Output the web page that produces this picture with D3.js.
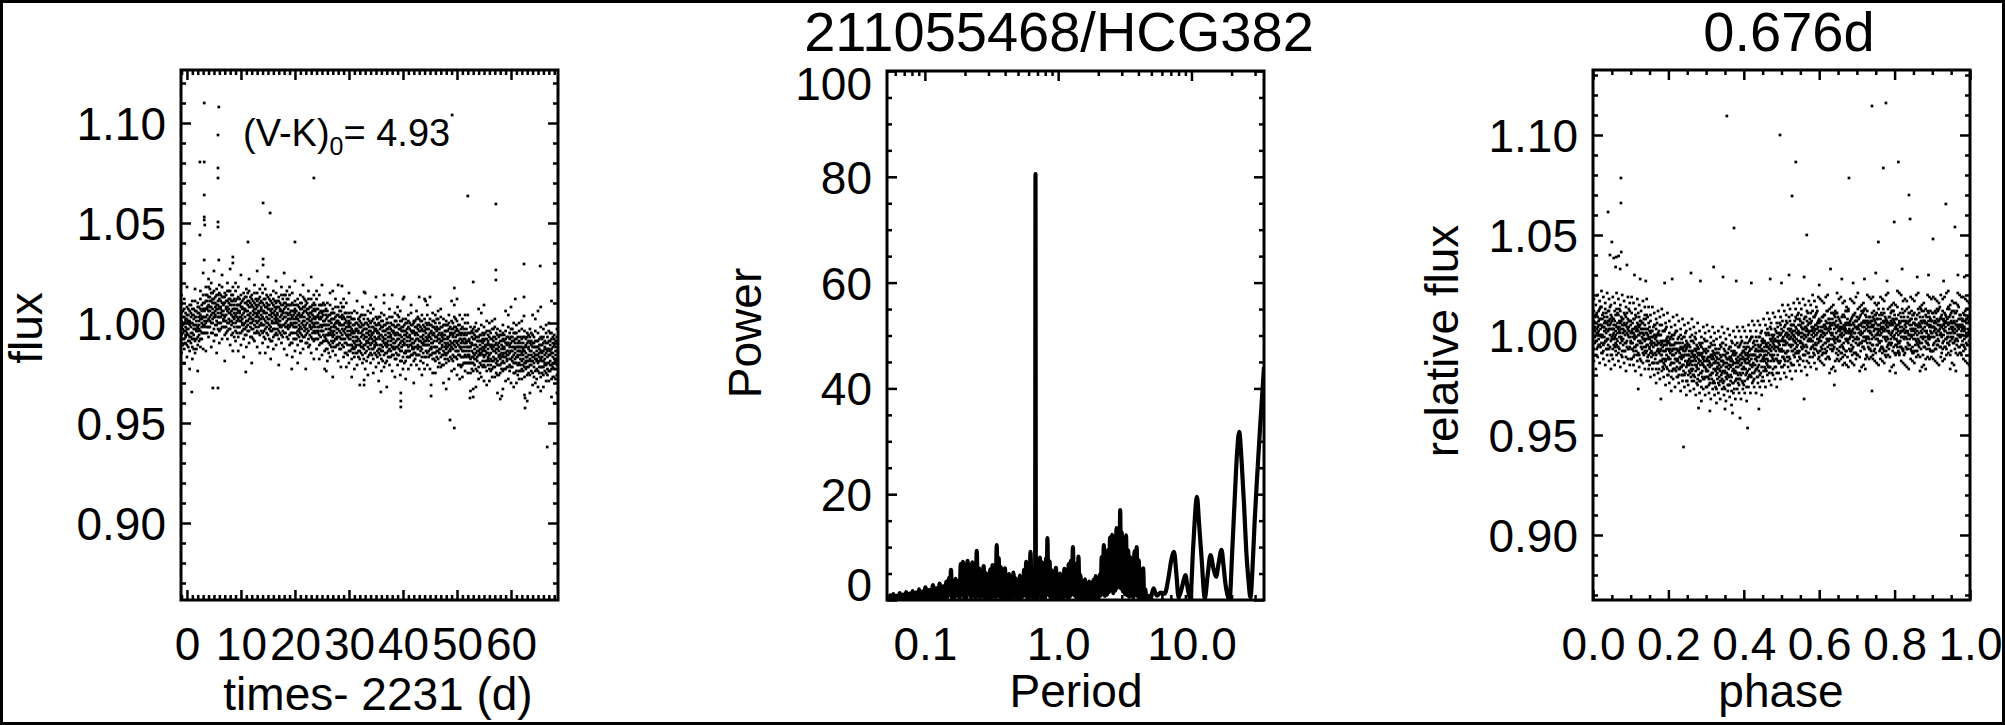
<!DOCTYPE html>
<html><head><meta charset="utf-8">
<script src="https://cdn.jsdelivr.net/npm/d3@7"></script>
<style>
html,body{margin:0;padding:0;background:#fff;}
svg{display:block;}
text{font-family:"Liberation Sans",Arial,Helvetica,sans-serif;fill:#000;}
</style></head><body>
<svg id="c" width="2005" height="725"></svg>
<script>
// ---------------- DATA ----------------
const titleMid = "211055468/HCG382";
const titleRight = "0.676d";
const colourLabel = {pre: "(V-K)", sub: "0", post: "= 4.93"};
const lcXTicks = [0, 10, 20, 30, 40, 50, 60];
const fluxTicks = [0.90, 0.95, 1.00, 1.05, 1.10];
const powerTicks = [0, 20, 40, 60, 80, 100];
const periodTicks = [0.1, 1, 10];
const periodTickLabels = ["0.1", "1.0", "10.0"];
const phaseTicks = [0, 0.2, 0.4, 0.6, 0.8, 1.0];

// light curve: "day : flux offsets in units of 0.001 from 1.000"
const lcRows = [
"-1:-2,5,-10,10,-15,1,-6,14","-0.5:0,-8,7,-13,3,-4,12,-20","0:-3,2,-11,8,-17,4,-5,18","0.5:-1,-7,6,-14,9,-9,1,-23",
"1:-5,4,-12,11,-8,0,7,-18","1.5:3,-3,6,-15,11,-9,-1,17","2:-2,5,-7,10,-11,8,-4,-24","2.5:4,-8,7,-4,16,-12,2,12",
"3:3,-1,14,-5,7,-13,10,25","3.5:0,7,14,-5,18,3,11,-14","4:6,13,-2,18,-7,9,2,22","4.5:8,0,15,-5,11,4,20,-12",
"5:5,10,-3,16,-9,12,3,26","5.5:7,1,14,-6,17,-1,9,-15","6:3,12,-4,19,0,8,15,-10","6.5:10,4,13,-8,18,-2,6,24",
"7:3,10,-2,15,-6,13,1,-19","7.5:8,-4,11,0,20,-8,6,16","8:5,1,16,-3,9,-11,12,27","8.5:0,7,14,-5,18,3,11,-14",
"9:4,11,-4,16,-9,7,0,20","9.5:6,-2,13,-7,9,2,18,-14","10:3,8,-5,14,-11,10,1,24","10.5:5,-1,12,-8,15,-3,7,-17",
"11:1,10,-6,17,-2,6,13,-12","11.5:8,2,11,-10,16,-4,4,22","12:2,9,-3,14,-7,12,0,-20","12.5:7,-5,10,-1,19,-9,5,15",
"13:4,0,15,-4,8,-12,11,26","13.5:-1,6,13,-6,17,2,10,-15","14:3,10,-5,15,-10,6,-1,19","14.5:5,-3,12,-8,8,1,17,-15",
"15:2,7,-6,13,-12,9,0,23","15.5:4,-2,11,-9,14,-4,6,-18","16:0,9,-7,16,-3,5,12,-13","16.5:7,1,10,-11,15,-5,3,21",
"17:1,8,-4,13,-8,11,-1,-21","17.5:6,-6,9,-2,18,-10,4,14","18:3,-1,14,-5,7,-13,10,25","18.5:-2,5,12,-7,16,1,9,-16",
"19:2,9,-6,14,-11,5,-2,18","19.5:3,-5,10,-10,6,-1,15,-17","20:0,5,-8,11,-14,7,-2,21","20.5:2,-4,9,-11,12,-6,4,-20",
"21:-2,7,-9,14,-5,3,10,-15","21.5:5,-1,8,-13,13,-7,1,19","22:-1,6,-6,11,-10,9,-3,-23","22.5:4,-8,7,-4,16,-12,2,12",
"23:1,-3,12,-7,5,-15,8,23","23.5:-4,3,10,-9,14,-1,7,-18","24:0,7,-8,12,-13,3,-4,16","24.5:2,-6,9,-11,5,-2,14,-18",
"25:-2,3,-10,9,-16,5,-4,19","25.5:-1,-7,6,-14,9,-9,1,-23","26:-6,3,-13,10,-9,-1,6,-19","26.5:1,-5,4,-17,9,-11,-3,15",
"27:-5,2,-10,7,-14,5,-7,-27","27.5:0,-12,3,-8,12,-16,-2,8","28:-3,-7,8,-11,1,-19,4,19","28.5:-8,-1,6,-13,10,-5,3,-22",
"29:-4,3,-12,8,-17,-1,-8,12","29.5:-2,-10,5,-15,1,-6,10,-22","30:-6,-1,-14,5,-20,1,-8,15","30.5:-5,-11,2,-18,5,-13,-3,-27",
"31:-10,-1,-17,6,-13,-5,2,-23","31.5:-3,-9,0,-21,5,-15,-7,11","32:-9,-2,-14,3,-18,1,-11,-31","32.5:-4,-16,-1,-12,8,-20,-6,4",
"33:-7,-11,4,-15,-3,-23,0,15","33.5:-12,-5,2,-17,6,-9,-1,-26","34:-7,0,-15,5,-20,-4,-11,9","34.5:-5,-13,2,-18,-2,-9,7,-25",
"35:-8,-3,-16,3,-22,-1,-10,13","35.5:-7,-13,0,-20,3,-15,-5,-29","36:-11,-2,-18,5,-14,-6,1,-24","36.5:-4,-10,-1,-22,4,-16,-8,10",
"37:-10,-3,-15,2,-19,0,-12,-32","37.5:-5,-17,-2,-13,7,-21,-7,3","38:-8,-12,3,-16,-4,-24,-1,14","38.5:-13,-6,1,-18,5,-10,-2,-27",
"39:-8,-1,-16,4,-21,-5,-12,8","39.5:-6,-14,1,-19,-3,-10,6,-26","40:-9,-4,-17,2,-23,-2,-11,12","40.5:-6,-14,0,-19,2,-15,-4,-28",
"41:-12,-2,-17,4,-14,-7,1,-23","41.5:-4,-11,-1,-21,5,-16,-8,9","42:-10,-4,-15,1,-19,0,-13,-30","42.5:-5,-16,-2,-12,6,-21,-8,2",
"43:-9,-12,2,-16,-4,-23,-1,13","43.5:-13,-7,1,-17,4,-10,-3,-26","44:-9,-4,-17,2,-23,-2,-11,12","44.5:-3,-11,-1,-21,4,-15,-8,9",
"45:-7,-13,2,-16,-5,-23,-1,13","45.5:-6,-15,1,-18,-2,-10,5,-25","46:-12,-3,-19,4,-15,-7,0,-25","46.5:-6,-18,-3,-14,6,-22,-8,2",
"47:-9,-2,-17,3,-22,-6,-13,7","47.5:-8,-14,-1,-21,2,-16,-6,-30","48:-11,-4,-16,1,-20,-1,-13,-33","48.5:-14,-7,0,-19,4,-11,-3,-28",
"49:-10,-5,-18,1,-24,-3,-12,11","49.5:-5,-11,-2,-23,3,-17,-9,9","50:-10,-14,1,-18,-6,-26,-3,12","50.5:-8,-16,-1,-21,-5,-12,4,-28",
"51:-14,-5,-21,2,-17,-9,-2,-27","51.5:-8,-20,-5,-16,4,-24,-10,0","52:-12,-5,-20,0,-25,-9,-16,4","52.5:-12,-18,-5,-25,-2,-20,-10,-34",
"53:-15,-8,-20,-3,-24,-5,-17,-37","53.5:-18,-11,-4,-23,0,-15,-7,-32","54:-14,-9,-22,-3,-28,-7,-16,7","54.5:-9,-15,-6,-27,-1,-21,-13,5",
"55:-13,-17,-2,-21,-9,-29,-6,9","55.5:-11,-19,-4,-24,-8,-15,1,-31","56:-16,-7,-23,0,-19,-11,-4,-29","56.5:-11,-23,-8,-19,1,-27,-13,-3",
"57:-14,-7,-22,-2,-27,-11,-18,2","57.5:-13,-19,-6,-26,-3,-21,-11,-35","58:-16,-9,-21,-4,-25,-6,-18,-38","58.5:-19,-12,-5,-24,-1,-16,-8,-33",
"59:-15,-10,-23,-4,-29,-8,-17,6","59.5:-10,-16,-7,-28,-2,-22,-14,4","60:-14,-18,-3,-22,-10,-30,-7,8","60.5:-12,-20,-5,-25,-9,-16,0,-32",
"61:-17,-8,-24,-1,-20,-12,-5,-30","61.5:-12,-24,-9,-20,0,-28,-14,-4","62:-15,-8,-23,-3,-28,-12,-19,1","62.5:-14,-20,-7,-27,-4,-22,-12,-36",
"63:-17,-10,-22,-5,-26,-7,-19,-39","63.5:-21,-14,-7,-26,-3,-18,-10,-35","64:-17,-12,-25,-6,-31,-10,-19,4","64.5:-12,-18,-9,-30,-4,-24,-16,2",
"65:-16,-20,-5,-24,-12,-32,-9,6","65.5:-14,-22,-7,-27,-11,-18,-2,-34","66:-19,-10,-26,-3,-22,-14,-7,-32","66.5:-13,-25,-10,-21,-1,-29,-15,-5",
"67:-16,-9,-24,-4,-29,-13,-20,0","67.5:-15,-21,-8,-28,-5,-23,-13,-37","68:-18,-11,-23,-6,-27,-8,-20,-40","68.5:-21,-14,-7,-26,-3,-18,-10,-35"
];
const lcRows2 = [
"-0.75:-1,-5,3,-8,6,-11,0,-3","-0.25:-4,2,-7,5,-10,-2,1,-6","0.25:1,-3,4,-9,0,-6,7,-12","0.75:-2,0,-5,3,-7,5,-10,9",
"1.25:-3,-1,-6,2,-8,4,-13,7","1.75:1,-3,6,-4,-1,-8,3,-13","2.25:-3,5,-1,3,-9,8,1,-6","2.75:2,-2,6,-5,9,-8,3,0",
"3.25:1,7,-2,10,-5,3,6,-1","3.75:8,4,11,-2,7,1,14,-5","4.25:6,8,3,11,1,13,-2,17","4.75:5,7,2,10,0,12,-5,15",
"5.25:8,4,13,3,6,-1,10,-6","5.75:3,11,5,9,-3,14,7,0","6.25:7,3,11,0,14,-3,8,5","6.75:4,10,1,13,-2,6,9,2",
"7.25:8,4,11,-2,7,1,14,-5","7.75:5,7,2,10,0,12,-3,16","8.25:4,6,1,9,-1,11,-6,14","8.75:7,3,12,2,5,-2,9,-7",
"9.25:1,9,3,7,-5,12,5,-2","9.75:5,1,9,-2,12,-5,6,3","10.25:2,8,-1,11,-4,4,7,0","10.75:7,3,10,-3,6,0,13,-6",
"11.25:4,6,1,9,-1,11,-4,15","11.75:3,5,0,8,-2,10,-7,13","12.25:6,2,11,1,4,-3,8,-8","12.75:1,9,3,7,-5,12,5,-2",
"13.25:5,1,9,-2,12,-5,6,3","13.75:2,8,-1,11,-4,4,7,0","14.25:6,2,9,-4,5,-1,12,-7","14.75:3,5,0,8,-2,10,-5,14",
"15.25:2,4,-1,7,-3,9,-8,12","15.75:5,1,10,0,3,-4,7,-9","16.25:0,8,2,6,-6,11,4,-3","16.75:4,0,8,-3,11,-6,5,2",
"17.25:1,7,-2,10,-5,3,6,-1","17.75:6,2,9,-4,5,-1,12,-7","18.25:3,5,0,8,-2,10,-5,14","18.75:2,4,-1,7,-3,9,-8,12",
"19.25:4,0,9,-1,2,-5,6,-10","19.75:-2,6,0,4,-8,9,2,-5","20.25:2,-2,6,-5,9,-8,3,0","20.75:-1,5,-4,8,-7,1,4,-3",
"21.25:4,0,7,-6,3,-3,10,-9","21.75:1,3,-2,6,-4,8,-7,12","22.25:0,2,-3,5,-5,7,-10,10","22.75:3,-1,8,-2,1,-6,5,-11",
"23.25:-2,6,0,4,-8,9,2,-5","23.75:2,-2,6,-5,9,-8,3,0","24.25:-2,4,-5,7,-8,0,3,-4","24.75:3,-1,6,-7,2,-4,9,-10",
"25.25:-1,1,-4,4,-6,6,-9,10","25.75:-3,-1,-6,2,-8,4,-13,7","26.25:-1,-5,4,-6,-3,-10,1,-15","26.75:-6,2,-4,0,-12,5,-2,-9",
"27.25:-2,-6,2,-9,5,-12,-1,-4","27.75:-5,1,-8,4,-11,-3,0,-7","28.25:0,-4,3,-10,-1,-7,6,-13","28.75:-3,-1,-6,2,-8,4,-11,8",
"29.25:-5,-3,-8,0,-10,2,-15,5","29.75:-2,-6,3,-7,-4,-11,0,-16","30.25:-8,0,-6,-2,-14,3,-4,-11","30.75:-5,-9,-1,-12,2,-15,-4,-7",
"31.25:-9,-3,-12,0,-15,-7,-4,-11","31.75:-4,-8,-1,-14,-5,-11,2,-17","32.25:-7,-5,-10,-2,-12,0,-15,4","32.75:-8,-6,-11,-3,-13,-1,-18,2",
"33.25:-5,-9,0,-10,-7,-14,-3,-19","33.75:-10,-2,-8,-4,-16,1,-6,-13","34.25:-6,-10,-2,-13,1,-16,-5,-8","34.75:-9,-3,-12,0,-15,-7,-4,-11",
"35.25:-4,-8,-1,-14,-5,-11,2,-17","35.75:-8,-6,-11,-3,-13,-1,-16,3","36.25:-9,-7,-12,-4,-14,-2,-19,1","36.75:-6,-10,-1,-11,-8,-15,-4,-20",
"37.25:-11,-3,-9,-5,-17,0,-7,-14","37.75:-7,-11,-3,-14,0,-17,-6,-9","38.25:-10,-4,-13,-1,-16,-8,-5,-12","38.75:-5,-9,-2,-15,-6,-12,1,-18",
"39.25:-8,-6,-11,-3,-13,-1,-16,3","39.75:-9,-7,-12,-4,-14,-2,-19,1","40.25:-6,-10,-1,-11,-8,-15,-4,-20","40.75:-11,-3,-9,-5,-17,0,-7,-14",
"41.25:-7,-11,-3,-14,0,-17,-6,-9","41.75:-10,-4,-13,-1,-16,-8,-5,-12","42.25:-5,-9,-2,-15,-6,-12,1,-18","42.75:-8,-6,-11,-3,-13,-1,-16,3",
"43.25:-9,-7,-12,-4,-14,-2,-19,1","43.75:-6,-10,-1,-11,-8,-15,-4,-20","44.25:-11,-3,-9,-5,-17,0,-7,-14","44.75:-7,-11,-3,-14,0,-17,-6,-9",
"45.25:-10,-4,-13,-1,-16,-8,-5,-12","45.75:-5,-9,-2,-15,-6,-12,1,-18","46.25:-9,-7,-12,-4,-14,-2,-17,2","46.75:-10,-8,-13,-5,-15,-3,-20,0",
"47.25:-7,-11,-2,-12,-9,-16,-5,-21","47.75:-12,-4,-10,-6,-18,-1,-8,-15","48.25:-8,-12,-4,-15,-1,-18,-7,-10","48.75:-11,-5,-14,-2,-17,-9,-6,-13",
"49.25:-6,-10,-3,-16,-7,-13,0,-19","49.75:-9,-7,-12,-4,-14,-2,-17,2","50.25:-11,-9,-14,-6,-16,-4,-21,-1","50.75:-8,-12,-3,-13,-10,-17,-6,-22",
"51.25:-14,-6,-12,-8,-20,-3,-10,-17","51.75:-10,-14,-6,-17,-3,-20,-9,-12","52.25:-14,-8,-17,-5,-20,-12,-9,-16","52.75:-10,-14,-7,-20,-11,-17,-4,-23",
"53.25:-13,-11,-16,-8,-18,-6,-21,-2","53.75:-14,-12,-17,-9,-19,-7,-24,-4","54.25:-11,-15,-6,-16,-13,-20,-9,-25","54.75:-16,-8,-14,-10,-22,-5,-12,-19",
"55.25:-12,-16,-8,-19,-5,-22,-11,-14","55.75:-15,-9,-18,-6,-21,-13,-10,-17","56.25:-11,-15,-8,-21,-12,-18,-5,-24","56.75:-14,-12,-17,-9,-19,-7,-22,-3",
"57.25:-15,-13,-18,-10,-20,-8,-25,-5","57.75:-12,-16,-7,-17,-14,-21,-10,-26","58.25:-17,-9,-15,-11,-23,-6,-13,-20","58.75:-13,-17,-9,-20,-6,-23,-12,-15",
"59.25:-16,-10,-19,-7,-22,-14,-11,-18","59.75:-11,-15,-8,-21,-12,-18,-5,-24","60.25:-14,-12,-17,-9,-19,-7,-22,-3","60.75:-15,-13,-18,-10,-20,-8,-25,-5",
"61.25:-12,-16,-7,-17,-14,-21,-10,-26","61.75:-18,-10,-16,-12,-24,-7,-14,-21","62.25:-14,-18,-10,-21,-7,-24,-13,-16","62.75:-17,-11,-20,-8,-23,-15,-12,-19",
"63.25:-12,-16,-9,-22,-13,-19,-6,-25","63.75:-16,-14,-19,-11,-21,-9,-24,-5","64.25:-17,-15,-20,-12,-22,-10,-27,-7","64.75:-14,-18,-9,-19,-16,-23,-12,-28",
"65.25:-19,-11,-17,-13,-25,-8,-15,-22","65.75:-15,-19,-11,-22,-8,-25,-14,-17","66.25:-18,-12,-21,-9,-24,-16,-13,-20","66.75:-13,-17,-10,-23,-14,-20,-7,-26",
"67.25:-16,-14,-19,-11,-21,-9,-24,-5","67.75:-17,-15,-20,-12,-22,-10,-27,-7","68.25:-14,-18,-9,-19,-16,-23,-12,-28"
];
// light curve isolated points: [day, flux]
const lcOutliers = [
[3.2,1.110],[5.9,1.108],[2.4,1.0805],[3.2,1.0805],[5.75,1.0775],[5.75,1.0725],[5.75,1.094],[3.2,1.064],[3.2,1.053],[3.2,1.0515],
[3.3,1.049],[2.4,1.044],[5.75,1.0505],[5.75,1.048],[23.5,1.0725],[14.1,1.060],[15.4,1.055],[11.3,1.0405],[20,1.0405],[49.1,1.104],
[52,1.0635],[57.2,1.0595],[62.4,1.0295],[65.4,1.0285],[57.2,1.0265],[57.2,1.0215],[3.2,1.0315],[5.9,1.0315],[8.5,1.033],[8.5,1.030],
[14.1,1.032],[14.1,1.029],[0.9,0.9655],[5.75,0.9675],[48.7,0.9515],[49.5,0.9475],[66.7,0.938],[39.6,0.965],[39.6,0.961],[39.6,0.958],
[62.6,0.9625],[62.6,0.9575],[58.3,0.9635],[32.8,0.9715],[32.8,0.969],[25.8,0.976],[10.9,0.9755],[19.4,0.977],[35.9,0.9655],[45.2,0.969],
[45.2,0.9635],[52.4,0.9625],[53,0.967],[4.8,0.9675],[62.4,1.013],[62.4,1.0035],[53,1.0205],[49.5,1.0175],[44.2,1.011],[32.8,1.0155],
[27,1.016],[28.7,1.0185],[36.5,1.014],[40.2,1.013],[60.8,1.012],[65.5,1.008],[67.5,1.011]
];

// phased light curve: "phase : relative flux offsets in units of 0.001 from 1.000"
const phaseRows = [
"0.0025:3,12,-7,18,-13,7","0.0075:6,-3,15,-10,10,-17","0.0125:1,9,-6,20,-11,4","0.0175:8,0,13,-14,17,-5","0.0225:-1,5,-9,14,-4,22",
"0.0275:4,-5,11,-8,19,-12","0.0325:2,7,16,-3,-15,13","0.0375:9,-7,6,21,-2,-10","0.0425:3,12,-7,18,-13,7","0.0475:6,-3,15,-10,10,-17",
"0.0525:0,8,-7,19,-12,3","0.0575:7,-1,12,-15,16,-6","0.0625:-2,4,-10,13,-5,21","0.0675:3,-6,10,-9,18,-13","0.0725:1,6,15,-4,-16,12",
"0.0775:8,-8,5,20,-3,-11","0.0825:2,11,-8,17,-14,6","0.0875:5,-4,14,-11,9,-18","0.0925:0,8,-7,19,-12,3","0.0975:7,-1,12,-15,16,-6",
"0.1025:-4,2,-12,11,-7,19","0.1075:1,-8,8,-11,16,-15","0.1125:-1,4,13,-6,-18,10","0.1175:6,-10,3,18,-5,-13","0.1225:0,9,-10,15,-16,4",
"0.1275:3,-6,12,-13,7,-20","0.1325:-2,6,-9,17,-14,1","0.1375:5,-3,10,-17,14,-8","0.1425:-5,1,-13,10,-8,18","0.1475:-1,-10,6,-13,14,-17",
"0.1525:-4,1,10,-9,-21,7","0.1575:2,-14,-1,14,-9,-17","0.1625:-4,5,-14,11,-20,0","0.1675:-1,-10,8,-17,3,-24","0.1725:-7,1,-14,12,-19,-4",
"0.1775:0,-8,5,-22,9,-13","0.1825:-10,-4,-18,5,-13,13","0.1875:-5,-14,2,-17,10,-21","0.1925:-8,-3,6,-13,-25,3","0.1975:-1,-17,-4,11,-12,-20",
"0.2025:-8,1,-18,7,-24,-4","0.2075:-5,-14,4,-21,-1,-28","0.2125:-10,-2,-17,9,-22,-7","0.2175:-4,-12,1,-26,5,-17","0.2225:-13,-7,-21,2,-16,10",
"0.2275:-8,-17,-1,-20,7,-24","0.2325:-11,-6,3,-16,-28,0","0.2375:-4,-20,-7,8,-15,-23","0.2425:-10,-1,-20,5,-26,-6","0.2475:-7,-16,2,-23,-3,-30",
"0.2525:-13,-5,-20,6,-25,-10","0.2575:-6,-14,-1,-28,3,-19","0.2625:-15,-9,-23,0,-18,8","0.2675:-11,-20,-4,-23,4,-27","0.2725:-13,-8,1,-18,-30,-2",
"0.2775:-6,-22,-9,6,-17,-25","0.2825:-13,-4,-23,2,-29,-9","0.2875:-10,-19,-1,-26,-6,-33","0.2925:-15,-7,-22,4,-27,-12","0.2975:-8,-16,-3,-30,1,-21",
"0.3025:-18,-12,-26,-3,-21,5","0.3075:-13,-22,-6,-25,2,-29","0.3125:-15,-10,-1,-20,-32,-4","0.3175:-8,-24,-11,4,-19,-27","0.3225:-14,-5,-24,1,-30,-10",
"0.3275:-11,-20,-2,-27,-7,-34","0.3325:-17,-9,-24,2,-29,-14","0.3375:-10,-18,-5,-32,-1,-23","0.3425:-19,-13,-27,-4,-22,4","0.3475:-14,-23,-7,-26,1,-30",
"0.3525:-16,-11,-2,-21,-33,-5","0.3575:-9,-25,-12,3,-20,-28","0.3625:-15,-6,-25,0,-31,-11","0.3675:-12,-21,-3,-28,-8,-35","0.3725:-17,-9,-24,2,-29,-14",
"0.3775:-10,-18,-5,-32,-1,-23","0.3825:-19,-13,-27,-4,-22,4","0.3875:-13,-22,-6,-25,2,-29","0.3925:-15,-10,-1,-20,-32,-4","0.3975:-8,-24,-11,4,-19,-27",
"0.4025:-13,-4,-23,2,-29,-9","0.4075:-10,-19,-1,-26,-6,-33","0.4125:-14,-6,-21,5,-26,-11","0.4175:-7,-15,-2,-29,2,-20","0.4225:-16,-10,-24,-1,-19,7",
"0.4275:-10,-19,-3,-22,5,-26","0.4325:-12,-7,2,-17,-29,-1","0.4375:-5,-21,-8,7,-16,-24","0.4425:-10,-1,-20,5,-26,-6","0.4475:-7,-16,2,-23,-3,-30",
"0.4525:-11,-3,-18,8,-23,-8","0.4575:-4,-12,1,-26,5,-17","0.4625:-12,-6,-20,3,-15,11","0.4675:-7,-16,0,-19,8,-23","0.4725:-8,-3,6,-13,-25,3",
"0.4775:-1,-17,-4,11,-12,-20","0.4825:-6,3,-16,9,-22,-2","0.4875:-3,-12,6,-19,1,-26","0.4925:-7,1,-14,12,-19,-4","0.4975:0,-8,5,-22,9,-13",
"0.5025:-8,-2,-16,7,-11,15","0.5075:-3,-12,4,-15,12,-19","0.5125:-4,1,10,-9,-21,7","0.5175:3,-13,0,15,-8,-16","0.5225:-2,7,-12,13,-18,2",
"0.5275:1,-8,10,-15,5,-22","0.5325:-3,5,-10,16,-15,0","0.5375:4,-4,9,-18,13,-9","0.5425:-5,1,-13,10,-8,18","0.5475:1,-8,8,-11,16,-15",
"0.5525:-1,4,13,-6,-18,10","0.5575:6,-10,3,18,-5,-13","0.5625:0,9,-10,15,-16,4","0.5675:3,-6,12,-13,7,-20","0.5725:-2,6,-9,17,-14,1",
"0.5775:6,-2,11,-16,15,-7","0.5825:-3,3,-11,12,-6,20","0.5875:2,-7,9,-10,17,-14","0.5925:0,5,14,-5,-17,11","0.5975:7,-9,4,19,-4,-12",
"0.6025:-1,7,-8,18,-13,2","0.6075:2,-7,9,-10,17,-14","0.6125:1,10,-9,16,-15,5","0.6175:7,-9,4,19,-4,-12","0.6225:-3,3,-11,12,-6,20",
"0.6275:4,-5,13,-12,8,-19","0.6325:0,5,14,-5,-17,11","0.6375:6,-2,11,-16,15,-7","0.6425:5,-4,12,-13,9,-18","0.6475:-2,4,-12,11,-7,21",
"0.6525:8,-8,3,18,-3,-13","0.6575:0,6,-9,19,-12,3","0.6625:3,-6,10,-11,16,-15","0.6675:2,9,-10,17,-14,4","0.6725:5,-3,12,-15,14,-8",
"0.6775:1,6,13,-4,-16,12","0.6825:-1,7,-8,18,-13,2","0.6875:2,-7,9,-10,17,-14","0.6925:1,10,-9,16,-15,5","0.6975:7,-9,4,19,-4,-12",
"0.7025:-2,4,-10,13,-5,21","0.7075:5,-4,14,-11,9,-18","0.7125:1,6,15,-4,-16,12","0.7175:7,-1,12,-15,16,-6","0.7225:6,-3,13,-12,10,-17",
"0.7275:-1,5,-11,12,-4,20","0.7325:9,-7,4,19,-2,-12","0.7375:1,7,-8,18,-11,4","0.7425:4,-5,9,-10,19,-12","0.7475:3,10,-7,16,-13,7",
"0.7525:8,0,11,-14,15,-5","0.7575:2,5,16,-3,-15,13","0.7625:0,8,-7,19,-12,3","0.7675:3,-6,10,-9,18,-13","0.7725:2,11,-8,17,-14,6",
"0.7775:8,-8,5,20,-3,-11","0.7825:-2,4,-10,13,-5,21","0.7875:5,-4,14,-11,9,-18","0.7925:1,6,15,-4,-16,12","0.7975:7,-1,12,-15,16,-6",
"0.8025:4,-5,15,-10,8,-19","0.8075:-3,3,-9,14,-6,22","0.8125:7,-9,6,21,-4,-10","0.8175:-1,9,-6,20,-13,2","0.8225:2,-7,11,-8,17,-14",
"0.8275:1,12,-9,18,-15,5","0.8325:6,-2,13,-16,17,-7","0.8375:0,7,14,-5,-17,11","0.8425:0,8,-7,19,-12,3","0.8475:3,-6,10,-9,18,-13",
"0.8525:2,11,-8,17,-14,6","0.8575:8,-8,5,20,-3,-11","0.8625:-2,4,-10,13,-5,21","0.8675:5,-4,14,-11,9,-18","0.8725:1,6,15,-4,-16,12",
"0.8775:7,-1,12,-15,16,-6","0.8825:6,-3,13,-12,10,-17","0.8875:-1,5,-11,12,-4,20","0.8925:9,-7,4,19,-2,-12","0.8975:1,7,-8,18,-11,4",
"0.9025:4,-5,11,-8,19,-12","0.9075:3,12,-7,18,-13,7","0.9125:8,0,13,-14,17,-5","0.9175:2,7,16,-3,-15,13","0.9225:1,9,-6,20,-11,4",
"0.9275:5,-4,12,-7,18,-13","0.9325:2,11,-6,19,-12,6","0.9375:9,-7,6,21,-2,-10","0.9425:-1,5,-9,14,-4,22","0.9475:6,-3,15,-10,10,-17",
"0.9525:3,6,17,-2,-14,12","0.9575:7,1,12,-15,16,-4","0.9625:5,-2,16,-9,11,-18","0.9675:0,4,-10,15,-3,21","0.9725:10,-6,5,20,-1,-9",
"0.9775:2,8,-5,19,-10,5","0.9825:4,-5,11,-8,19,-12","0.9875:3,12,-7,18,-13,7","0.9925:8,0,13,-14,17,-5","0.9975:2,7,16,-3,-15,13"
];
const phaseRows2 = [
"0.005:4,-1,9,-4,6,2","0.010:1,6,-3,11,3,-7","0.015:7,2,5,-2,12,-5","0.020:3,8,0,14,-6,5","0.025:0,4,10,-1,-9,8",
"0.030:4,-1,9,-4,6,2","0.035:1,6,-3,11,3,-7","0.040:7,2,5,-2,12,-5","0.045:3,8,0,14,-6,5","0.050:-1,3,9,-2,-10,7",
"0.055:3,-2,8,-5,5,1","0.060:0,5,-4,10,2,-8","0.065:6,1,4,-3,11,-6","0.070:2,7,-1,13,-7,4","0.075:-1,3,9,-2,-10,7",
"0.080:3,-2,8,-5,5,1","0.085:0,5,-4,10,2,-8","0.090:6,1,4,-3,11,-6","0.095:2,7,-1,13,-7,4","0.100:-3,1,7,-4,-12,5",
"0.105:1,-4,6,-7,3,-1","0.110:-2,3,-6,8,0,-10","0.115:4,-1,2,-5,9,-8","0.120:0,5,-3,11,-9,2","0.125:-3,1,7,-4,-12,5",
"0.130:1,-4,6,-7,3,-1","0.135:-2,3,-6,8,0,-10","0.140:3,-2,1,-6,8,-9","0.145:-2,3,-5,9,-11,0","0.150:-6,-2,4,-7,-15,2",
"0.155:-3,-8,2,-11,-1,-5","0.160:-6,-1,-10,4,-4,-14","0.165:0,-5,-2,-9,5,-12","0.170:-5,0,-8,6,-14,-3","0.175:-8,-4,2,-9,-17,0",
"0.180:-5,-10,0,-13,-3,-7","0.185:-8,-3,-12,2,-6,-16","0.190:-3,-8,-5,-12,2,-15","0.195:-7,-2,-10,4,-16,-5","0.200:-11,-7,-1,-12,-20,-3",
"0.205:-7,-12,-2,-15,-5,-9","0.210:-10,-5,-14,0,-8,-18","0.215:-5,-10,-7,-14,0,-17","0.220:-9,-4,-12,2,-18,-7","0.225:-12,-8,-2,-13,-21,-4",
"0.230:-9,-14,-4,-17,-7,-11","0.235:-12,-7,-16,-2,-10,-20","0.240:-6,-11,-8,-15,-1,-18","0.245:-10,-5,-13,1,-19,-8","0.250:-14,-10,-4,-15,-23,-6",
"0.255:-10,-15,-5,-18,-8,-12","0.260:-13,-8,-17,-3,-11,-21","0.265:-8,-13,-10,-17,-3,-20","0.270:-12,-7,-15,-1,-21,-10","0.275:-15,-11,-5,-16,-24,-7",
"0.280:-12,-17,-7,-20,-10,-14","0.285:-15,-10,-19,-5,-13,-23","0.290:-9,-14,-11,-18,-4,-21","0.295:-13,-8,-16,-2,-22,-11","0.300:-17,-13,-7,-18,-26,-9",
"0.305:-13,-18,-8,-21,-11,-15","0.310:-16,-11,-20,-6,-14,-24","0.315:-10,-15,-12,-19,-5,-22","0.320:-14,-9,-17,-3,-23,-12","0.325:-17,-13,-7,-18,-26,-9",
"0.330:-14,-19,-9,-22,-12,-16","0.335:-17,-12,-21,-7,-15,-25","0.340:-11,-16,-13,-20,-6,-23","0.345:-15,-10,-18,-4,-24,-13","0.350:-18,-14,-8,-19,-27,-10",
"0.355:-14,-19,-9,-22,-12,-16","0.360:-17,-12,-21,-7,-15,-25","0.365:-11,-16,-13,-20,-6,-23","0.370:-15,-10,-18,-4,-24,-13","0.375:-18,-14,-8,-19,-27,-10",
"0.380:-14,-19,-9,-22,-12,-16","0.385:-16,-11,-20,-6,-14,-24","0.390:-10,-15,-12,-19,-5,-22","0.395:-14,-9,-17,-3,-23,-12","0.400:-16,-12,-6,-17,-25,-8",
"0.405:-12,-17,-7,-20,-10,-14","0.410:-14,-9,-18,-4,-12,-22","0.415:-8,-13,-10,-17,-3,-20","0.420:-12,-7,-15,-1,-21,-10","0.425:-14,-10,-4,-15,-23,-6",
"0.430:-10,-15,-5,-18,-8,-12","0.435:-13,-8,-17,-3,-11,-21","0.440:-6,-11,-8,-15,-1,-18","0.445:-10,-5,-13,1,-19,-8","0.450:-12,-8,-2,-13,-21,-4",
"0.455:-8,-13,-3,-16,-6,-10","0.460:-10,-5,-14,0,-8,-18","0.465:-4,-9,-6,-13,1,-16","0.470:-7,-2,-10,4,-16,-5","0.475:-10,-6,0,-11,-19,-2",
"0.480:-5,-10,0,-13,-3,-7","0.485:-8,-3,-12,2,-6,-16","0.490:-1,-6,-3,-10,4,-13","0.495:-5,0,-8,6,-14,-3","0.500:-7,-3,3,-8,-16,1",
"0.505:-3,-8,2,-11,-1,-5","0.510:-5,0,-9,5,-3,-13","0.515:1,-4,-1,-8,6,-11","0.520:-2,3,-5,9,-11,0","0.525:-5,-1,5,-6,-14,3",
"0.530:0,-5,5,-8,2,-2","0.535:-3,2,-7,7,-1,-11","0.540:3,-2,1,-6,8,-9","0.545:0,5,-3,11,-9,2","0.550:-3,1,7,-4,-12,5",
"0.555:1,-4,6,-7,3,-1","0.560:-2,3,-6,8,0,-10","0.565:4,-1,2,-5,9,-8","0.570:0,5,-3,11,-9,2","0.575:-2,2,8,-3,-11,6",
"0.580:2,-3,7,-6,4,0","0.585:-1,4,-5,9,1,-9","0.590:5,0,3,-4,10,-7","0.595:1,6,-2,12,-8,3","0.600:-2,2,8,-3,-11,6",
"0.605:2,-3,7,-6,4,0","0.610:-1,4,-5,9,1,-9","0.615:5,0,3,-4,10,-7","0.620:1,6,-2,12,-8,3","0.625:-2,2,8,-3,-11,6",
"0.630:3,-2,6,-7,5,1","0.635:0,5,-5,8,1,-8","0.640:6,-1,3,-3,10,-6","0.645:1,7,-2,11,-9,4","0.650:-1,2,9,-3,-10,5",
"0.655:2,-3,7,-6,4,0","0.660:-1,4,-5,9,1,-9","0.665:5,0,3,-4,10,-7","0.670:1,6,-2,12,-8,3","0.675:-2,2,8,-3,-11,6",
"0.680:3,-2,6,-7,5,1","0.685:0,5,-5,8,1,-8","0.690:6,-1,3,-3,10,-6","0.695:1,7,-2,11,-9,4","0.700:-1,3,9,-2,-10,7",
"0.705:3,-2,8,-5,5,1","0.710:0,5,-4,10,2,-8","0.715:6,1,4,-3,11,-6","0.720:2,7,-1,13,-7,4","0.725:-1,3,9,-2,-10,7",
"0.730:4,-1,7,-6,6,2","0.735:1,6,-4,9,2,-7","0.740:7,0,5,-2,11,-5","0.745:2,8,-1,12,-8,5","0.750:0,3,10,-2,-9,6",
"0.755:3,-2,8,-5,5,1","0.760:0,5,-4,10,2,-8","0.765:6,1,4,-3,11,-6","0.770:2,7,-1,13,-7,4","0.775:-1,3,9,-2,-10,7",
"0.780:4,-1,7,-6,6,2","0.785:1,6,-4,9,2,-7","0.790:7,0,5,-2,11,-5","0.795:2,8,-1,12,-8,5","0.800:0,3,10,-2,-9,6",
"0.805:3,-2,8,-5,5,1","0.810:0,5,-4,10,2,-8","0.815:6,1,4,-3,11,-6","0.820:2,7,-1,13,-7,4","0.825:-1,3,9,-2,-10,7",
"0.830:4,-1,7,-6,6,2","0.835:1,6,-4,9,2,-7","0.840:7,0,5,-2,11,-5","0.845:2,8,-1,12,-8,5","0.850:0,3,10,-2,-9,6",
"0.855:3,-2,8,-5,5,1","0.860:0,5,-4,10,2,-8","0.865:6,1,4,-3,11,-6","0.870:2,7,-1,13,-7,4","0.875:-1,3,9,-2,-10,7",
"0.880:4,-1,7,-6,6,2","0.885:1,6,-4,9,2,-7","0.890:7,0,5,-2,11,-5","0.895:2,8,-1,12,-8,5","0.900:1,4,11,-1,-8,7",
"0.905:4,-1,9,-4,6,2","0.910:1,6,-3,11,3,-7","0.915:7,2,5,-2,12,-5","0.920:3,8,0,14,-6,5","0.925:0,4,10,-1,-9,8",
"0.930:5,0,8,-3,7,3","0.935:2,7,-2,10,4,-6","0.940:8,1,6,-1,13,-4","0.945:3,9,1,13,-5,6","0.950:1,4,11,-1,-8,7",
"0.955:4,-1,9,-4,6,2","0.960:1,6,-3,11,3,-7","0.965:7,2,5,-2,12,-5","0.970:3,8,0,14,-6,5","0.975:0,4,10,-1,-9,8",
"0.980:5,0,8,-3,7,3","0.985:2,7,-2,10,4,-6","0.990:8,1,6,-1,13,-4","0.995:3,9,1,13,-5,6"
];
// phased isolated points: [phase, relative flux]
const phaseOutliers = [
[0.04,1.0615],[0.074,1.0785],[0.074,1.066],[0.05,1.0465],[0.355,1.1095],[0.374,1.0535],[0.496,1.100],[0.538,1.0865],[0.528,1.0695],
[0.567,1.050],[0.679,1.0785],[0.740,1.1145],[0.777,1.116],[0.770,1.0835],[0.81,1.0865],[0.799,1.0565],[0.757,1.0465],[0.838,1.070],
[0.841,1.058],[0.902,1.048],[0.936,1.0655],[0.96,1.054],[0.968,1.030],
[0.045,1.040],[0.055,1.0385],[0.062,1.039],[0.068,1.0395],[0.075,1.0415],[0.06,1.034],[0.072,1.033],[0.09,1.035],[0.11,1.030],
[0.125,1.028],[0.14,1.027],[0.19,1.026],[0.21,1.028],[0.26,1.031],[0.285,1.027],[0.32,1.034],[0.345,1.029],[0.38,1.027],[0.42,1.026],
[0.47,1.028],[0.5,1.026],[0.52,1.03],[0.56,1.029],[0.6,1.025],[0.63,1.033],[0.66,1.028],[0.69,1.026],[0.72,1.028],[0.75,1.031],
[0.78,1.027],[0.82,1.033],[0.86,1.029],[0.89,1.03],[0.93,1.027],[0.985,1.029],
[0.24,0.944],[0.41,0.9535],[0.39,0.9585],[0.37,0.961],[0.35,0.963],[0.31,0.962],[0.28,0.9635],[0.44,0.963],[0.56,0.968],[0.74,0.972],
[0.64,0.975],[0.18,0.968],[0.12,0.973]
];

// periodogram: [period (d), power]
const periodogram = [
[0.052,0.6],[0.0535,0.1],[0.055,0.9],[0.0565,0.2],[0.058,1.1],[0.0597,0.1],[0.0613,0.8],[0.063,0.3],[0.0648,1.3],[0.0666,0.2],
[0.0685,1.0],[0.0704,0.3],[0.0724,1.5],[0.0744,0.2],[0.0765,1.2],[0.0787,0.4],[0.081,1.7],[0.0832,0.3],[0.0856,1.4],[0.088,0.5],
[0.0905,2.0],[0.093,0.3],[0.0957,1.6],[0.0984,0.4],
[0.101,2.4],[0.1045,0.3],[0.108,1.9],[0.1115,0.2],[0.115,2.8],[0.1185,0.4],[0.122,2.2],[0.1255,0.1],[0.129,3.1],[0.133,0.5],
[0.137,2.6],[0.141,0.2],[0.145,3.5],[0.1485,0.6],[0.152,4.2],[0.1545,1.0],[0.157,5.7],[0.160,0.4],[0.163,3.4],[0.1665,0.3],
[0.170,4.0],[0.174,0.8],[0.178,3.6],[0.182,0.2],[0.186,6.8],[0.1895,1.1],[0.193,7.2],[0.197,0.5],[0.201,5.9],[0.205,0.3],
[0.209,7.4],[0.2135,1.2],[0.218,6.5],[0.2225,0.4],[0.227,7.1],[0.2315,0.9],[0.236,5.2],[0.2405,0.2],[0.245,9.3],[0.25,1.0],
[0.255,6.0],[0.26,0.3],[0.265,4.8],[0.2705,0.7],[0.276,6.4],[0.2815,0.5],[0.287,5.1],[0.2925,0.2],[0.298,4.3],[0.304,0.8],
[0.310,5.8],[0.316,0.4],[0.322,6.6],[0.328,1.1],[0.334,5.5],[0.34,0.3],[0.346,10.4],[0.352,1.4],[0.358,7.9],[0.3645,0.6],
[0.371,6.2],[0.378,0.2],[0.385,5.1],[0.392,0.9],[0.399,6.0],[0.4065,0.4],[0.414,3.8],[0.4215,0.3],[0.429,4.9],[0.437,0.6],
[0.445,3.6],[0.4535,0.2],[0.462,5.2],[0.4705,0.8],[0.479,4.1],[0.488,0.3],[0.497,3.4],[0.5065,0.5],[0.516,4.6],[0.5255,0.2],
[0.535,3.9],[0.545,0.7],[0.555,5.7],[0.5655,1.0],[0.576,7.2],[0.5865,0.4],[0.597,6.1],[0.6085,0.9],[0.620,9.1],[0.6325,0.6],
[0.645,5.5],[0.66,0.5],[0.672,3.0],[0.676,80.5],[0.680,2.0],[0.692,0.3],[0.705,6.4],[0.7175,0.8],[0.730,8.0],[0.7435,0.5],
[0.757,7.1],[0.771,0.3],[0.785,6.2],[0.798,1.2],[0.812,7.9],[0.821,2.0],[0.830,11.7],[0.846,0.9],[0.862,7.3],[0.878,0.4],
[0.894,5.6],[0.9105,0.6],[0.927,4.8],[0.9445,0.3],[0.962,6.1],[0.98,0.7],[0.998,4.3],[1.016,0.2],[1.035,5.0],[1.0545,0.5],
[1.074,4.6],[1.094,0.3],[1.114,5.9],[1.135,0.8],[1.156,4.4],[1.178,0.4],[1.20,6.8],[1.2225,0.6],[1.245,7.4],[1.2675,1.2],
[1.29,10.0],[1.315,0.9],[1.34,6.9],[1.365,0.5],[1.39,5.2],[1.405,2.0],[1.42,8.2],[1.445,0.4],[1.47,4.7],[1.50,0.3],
[1.53,3.1],[1.56,0.5],[1.59,3.9],[1.62,0.2],[1.65,2.8],[1.68,0.4],[1.71,3.5],[1.74,0.3],[1.77,2.6],[1.805,0.2],
[1.84,3.8],[1.875,0.5],[1.91,4.5],[1.945,0.3],[1.98,3.2],[2.015,0.4],[2.05,4.8],[2.085,0.9],[2.12,8.1],[2.16,1.2],
[2.20,10.4],[2.24,0.8],[2.28,7.0],[2.325,1.0],[2.37,9.5],[2.41,1.5],[2.45,11.8],[2.495,2.0],[2.54,12.3],[2.59,1.3],
[2.64,9.6],[2.69,1.8],[2.74,13.6],[2.79,2.4],[2.84,12.1],[2.88,3.0],[2.92,17.0],[2.96,2.2],[3.00,12.8],[3.055,1.6],
[3.11,11.6],[3.17,1.1],[3.23,12.2],[3.29,0.9],[3.35,9.4],[3.41,0.6],[3.47,8.1],[3.535,0.8],[3.60,7.0],[3.67,0.5],
[3.74,9.2],[3.81,1.0],[3.88,10.0],[3.95,0.7],[4.02,7.5],[4.10,0.4],[4.18,5.4],[4.26,0.3],[4.34,6.0],[4.42,0.5],[4.50,2.0],
[4.6,0.2],[4.75,0.8],[4.9,0.1],[5.05,1.2],[5.2,2.2],[5.35,1.4],[5.5,0.8],[5.9,1.4],[6.3,1.2],[6.7,4.0],[7.05,7.5],[7.4,9.1],
[7.7,5.0],[8.0,0.5],[8.3,1.5],[8.6,3.0],[9.0,4.7],[9.4,2.0],[9.8,0.3],[10.3,10.0],[11.0,19.5],[11.4,14.5],[11.9,8.0],[12.6,0.3],
[13.2,4.5],[13.9,8.5],[14.6,6.0],[15.3,4.4],[16.0,7.0],[16.8,9.5],[17.4,6.5],[18.0,3.0],[18.6,1.0],[19.3,0.0],[20.2,9.0],[21.0,18.0],
[22.0,28.0],[22.8,31.8],[23.8,26.0],[24.8,18.0],[25.8,9.0],[26.7,4.0],[27.7,0.5],[28.7,6.0],[29.8,15.0],[31.2,24.0],[32.6,32.0],[35,44.0]
];

// ---------------- DRAWING ----------------
const FONT = '"Liberation Sans", Arial, Helvetica, sans-serif';
const svg = d3.select("#c");
svg.append("rect").attr("width",2005).attr("height",725).attr("fill","#fff");

function parseRows(rows){
  const out = [];
  rows.forEach(r => {
    const [k, vals] = r.split(":");
    const x = +k;
    vals.split(",").forEach(v => out.push([x, 1 + (+v)/1000]));
  });
  return out;
}
const lcPoints = parseRows(lcRows).concat(parseRows(lcRows2), lcOutliers);
const phasePoints = parseRows(phaseRows).concat(parseRows(phaseRows2), phaseOutliers);

const xL = d3.scaleLinear([-1.1, 68.7], [181, 558]);
const yL = d3.scaleLinear([0.8615, 1.1265], [600, 70]);
const xM = d3.scaleLog([0.052, 35], [887, 1264]);
const yM = d3.scaleLinear([0, 100], [600, 71]);
const xR = d3.scaleLinear([0, 1], [1593, 1970]);
const yR = d3.scaleLinear([0.8675, 1.1325], [600, 70]);

const isMult = (v, step) => Math.abs(v/step - Math.round(v/step)) < 1e-6;
const minorRange = (a, b, s, major) => d3.range(Math.round(a/s), Math.round(b/s)+1).map(i => +(i*s).toFixed(6)).filter(v => !isMult(v, major));

let clipN = 0;
function clipFor(x, y){
  const id = "clip" + (clipN++);
  const [x0,x1] = x.range(), [y1,y0] = y.range();
  svg.append("clipPath").attr("id", id).append("rect")
    .attr("x", x0).attr("y", y0).attr("width", x1-x0).attr("height", y1-y0);
  return "url(#" + id + ")";
}

function axes(cfg){
  const {x, y, xMajor, xMinor, yMajor, yMinor, xFmt, yFmt} = cfg;
  const [x0,x1] = x.range(), [y1,y0] = y.range();
  const g = svg.append("g");
  const add = (axis, tx, ty) => {
    const a = g.append("g").attr("transform", `translate(${tx},${ty})`).call(axis);
    a.select(".domain").remove();
    a.selectAll("line").attr("stroke", "#000").attr("stroke-width", 2.5);
    a.selectAll("text").attr("font-size", 46).attr("font-family", FONT).attr("fill", "#000");
    return a;
  };
  add(d3.axisBottom(x).tickValues(xMajor).tickSize(-10).tickPadding(27).tickFormat(xFmt), 0, y1);
  add(d3.axisBottom(x).tickValues(xMinor).tickSize(-5).tickFormat(""), 0, y1);
  add(d3.axisTop(x).tickValues(xMajor).tickSize(-10).tickFormat(""), 0, y0);
  add(d3.axisTop(x).tickValues(xMinor).tickSize(-5).tickFormat(""), 0, y0);
  const left = add(d3.axisLeft(y).tickValues(yMajor).tickSize(-10).tickPadding(15).tickFormat(yFmt), x0, 0);
  left.selectAll("text").attr("dy", "0.36em");
  add(d3.axisLeft(y).tickValues(yMinor).tickSize(-5).tickFormat(""), x0, 0);
  add(d3.axisRight(y).tickValues(yMajor).tickSize(-10).tickFormat(""), x1, 0);
  add(d3.axisRight(y).tickValues(yMinor).tickSize(-5).tickFormat(""), x1, 0);
  g.append("rect").attr("x", x0).attr("y", y0).attr("width", x1-x0).attr("height", y1-y0)
    .attr("fill", "none").attr("stroke", "#000").attr("stroke-width", 3);
  return {g, left};
}

function dots(points, x, y){
  const S = 2.7;
  svg.append("g").attr("clip-path", clipFor(x, y))
    .selectAll("rect").data(points).join("rect")
    .attr("x", d => x(d[0]) - S/2).attr("y", d => y(d[1]) - S/2)
    .attr("width", S).attr("height", S).attr("fill", "#000");
}

// ---- left: light curve
dots(lcPoints, xL, yL);
axes({x: xL, y: yL, xMajor: lcXTicks, xMinor: minorRange(-1, 68, 1, 10),
      yMajor: fluxTicks, yMinor: minorRange(0.87, 1.12, 0.01, 0.05),
      xFmt: d3.format("d"), yFmt: d3.format(".2f")});

// ---- middle: periodogram
const pLine = d3.line().x(d => xM(d[0])).y(d => yM(d[1])).curve(d3.curveMonotoneX);
svg.append("g").attr("clip-path", clipFor(xM, yM)).append("path")
  .datum(periodogram).attr("d", pLine).attr("fill", "none").attr("stroke", "#000")
  .attr("stroke-width", 4.2).attr("stroke-linejoin", "round");
const pMinor = [];
[0.01, 0.1, 1, 10].forEach(dec => { for (let k = 2; k <= 9; k++) { const v = k*dec; if (v >= 0.052 && v <= 35) pMinor.push(v); } });
const mid = axes({x: xM, y: yM, xMajor: periodTicks, xMinor: pMinor,
      yMajor: powerTicks, yMinor: minorRange(5, 95, 5, 20),
      xFmt: (d, i) => periodTickLabels[i], yFmt: d3.format("d")});
mid.left.selectAll(".tick text").attr("y", d => d === 0 ? -16 : (d === 100 ? 12 : 0));

// ---- right: phased light curve
dots(phasePoints, xR, yR);
axes({x: xR, y: yR, xMajor: phaseTicks, xMinor: minorRange(0.05, 0.95, 0.05, 0.2),
      yMajor: fluxTicks, yMinor: minorRange(0.87, 1.13, 0.01, 0.05),
      xFmt: d3.format(".1f"), yFmt: d3.format(".2f")});

// ---- texts
const T = (x, y, s, size, anchor, rot) => {
  const t = svg.append("text").attr("font-family", FONT).attr("font-size", size)
    .attr("text-anchor", anchor || "middle").text(s);
  if (rot) t.attr("transform", `translate(${x},${y}) rotate(-90)`); else t.attr("x", x).attr("y", y);
  return t;
};
T(1059, 51, titleMid, 56);
T(1789, 51, titleRight, 56);
T(378, 710, "times- 2231 (d)", 46);
T(1076, 707, "Period", 46);
T(1781, 707, "phase", 46);
T(42, 328, "flux", 46, "middle", true);
T(761, 333, "Power", 46, "middle", true);
T(1458, 341, "relative flux", 46, "middle", true);

const ann = svg.append("text").attr("font-family", FONT).attr("font-size", 38).attr("x", 243).attr("y", 146);
ann.append("tspan").text(colourLabel.pre);
ann.append("tspan").attr("font-size", 25).attr("dy", 9).text(colourLabel.sub);
ann.append("tspan").attr("dy", -9).text(colourLabel.post);

// outer border
svg.append("rect").attr("x", 1.5).attr("y", 1.5).attr("width", 2002).attr("height", 722)
  .attr("fill", "none").attr("stroke", "#000").attr("stroke-width", 3);
</script>
</body></html>
